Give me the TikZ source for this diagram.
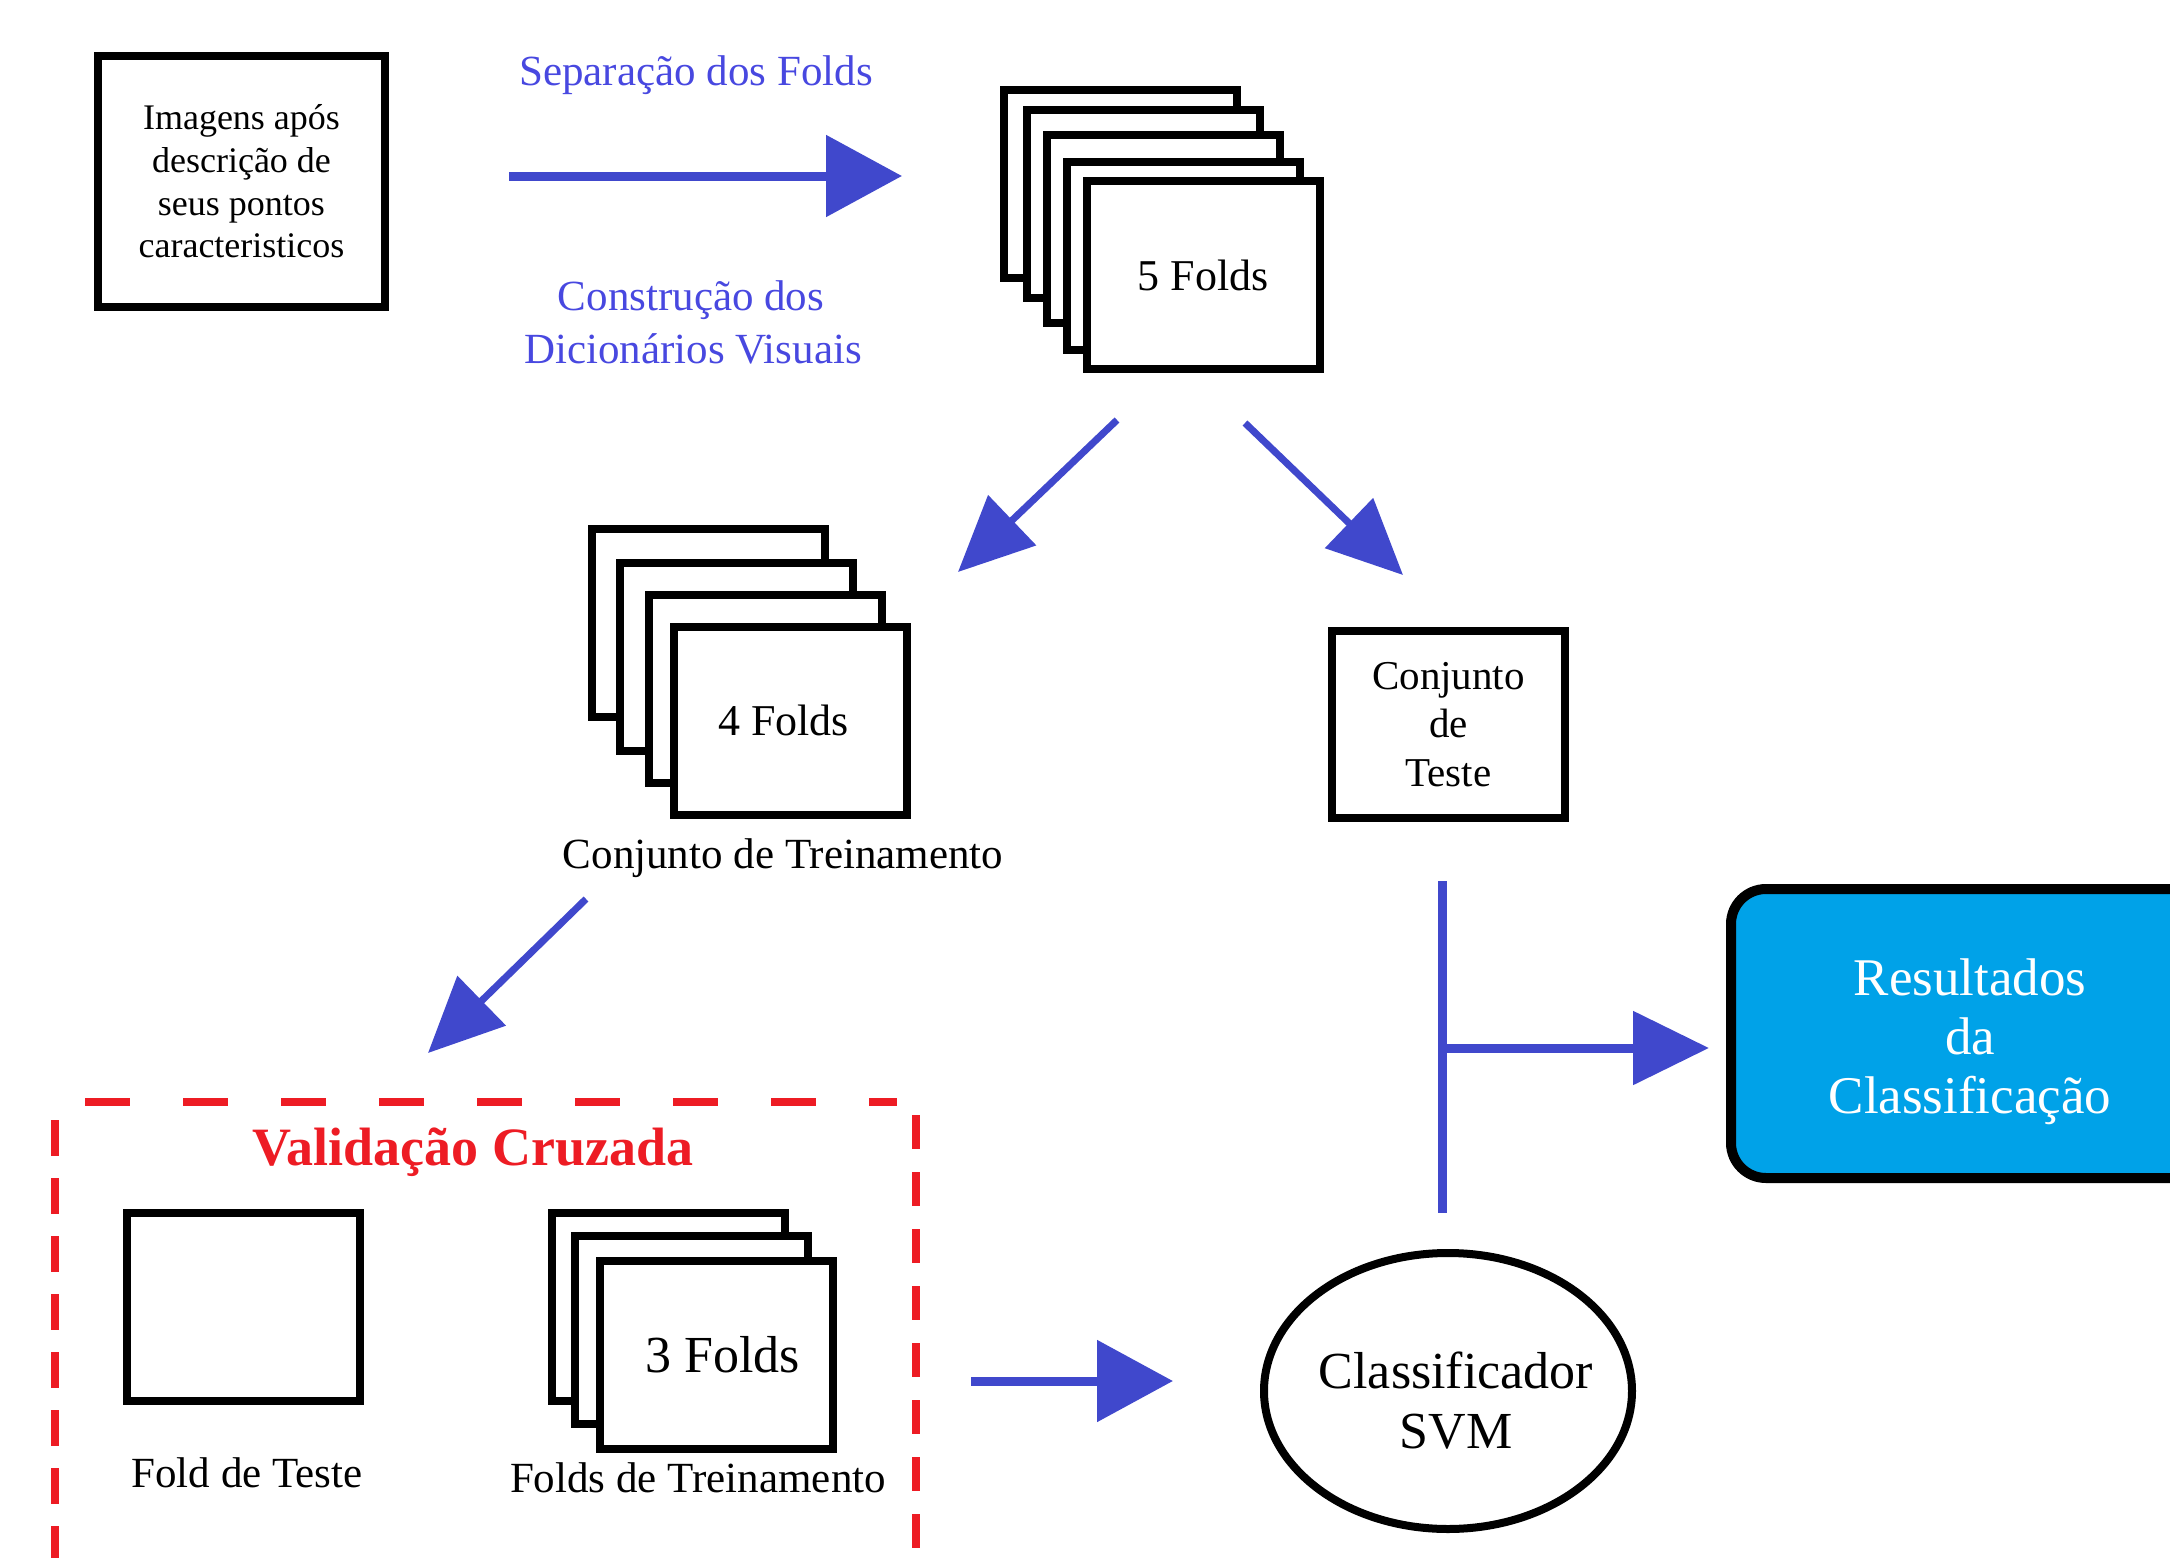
\documentclass[tikz,border=0pt]{standalone}
\usepackage{fontspec}
\setmainfont{Liberation Serif}
\usetikzlibrary{arrows.meta,shapes.geometric}

\definecolor{flowblue}{RGB}{64,72,204}
\definecolor{labelblue}{RGB}{72,72,224}
\definecolor{cvred}{RGB}{237,28,36}
\definecolor{resultfill}{RGB}{0,162,232}

\begin{document}
\begin{tikzpicture}[x=0.5pt, y=-0.5pt,
  card/.style={draw=black, fill=white, line width=4pt,
    minimum width=116.5pt, minimum height=94pt, inner sep=0pt},
  textbox/.style={draw=black, fill=white, line width=4pt, inner sep=0pt, align=center},
  caption/.style={anchor=base, inner sep=0pt, font=\fontsize{21.5pt}{26pt}\selectfont},
  bluelabel/.style={anchor=base, inner sep=0pt, text=labelblue,
    font=\fontsize{21.5pt}{26pt}\selectfont},
  flowline/.style={draw=flowblue, line width=4.5pt},
  bigarrow/.style={flowline, -{Triangle[length=38pt,width=40pt]}},
  diagarrow/.style={draw=flowblue, line width=3.5pt, -{Triangle[length=37.5pt,width=34pt]}},
  cvdash/.style={draw=cvred, line width=4pt}
]
\useasboundingbox (0,0) rectangle (2170,1558);
\clip (0,0) rectangle (2170,1558);

% input descriptors
\node[textbox, minimum width=143.5pt, minimum height=125.5pt,
      font=\fontsize{18pt}{21.35pt}\selectfont] (imgs) at (241.5,181.5)
  {Imagens após\\descrição de\\seus pontos\\caracteristicos};

% fold separation arrow and its labels
\coordinate (sepA) at (509,176);
\coordinate (sepB) at (902,176);
\draw[bigarrow] (sepA) -- (sepB);
\node[bluelabel] (seplbl) at (696,85) {Separação dos Folds};
\node[bluelabel] (dict1) at (691,310) {Construção dos};
\node[bluelabel] (dict2) at (693,363) {Dicionários Visuais};

% stack of five folds
\node[card] (f5a) at (1120.5,184) {};
\node[card] (f5b) at (1143.5,204) {};
\node[card] (f5c) at (1163,229) {};
\node[card] (f5d) at (1183,255.5) {};
\node[card, font=\fontsize{22pt}{26pt}\selectfont] (f5e) at (1203,275) {5 Folds};

% split into training and test sets
\coordinate (d1s) at (1117,420);
\coordinate (d1e) at (958,572);
\draw[diagarrow] (d1s) -- (d1e);
\coordinate (d2s) at (1245,423);
\coordinate (d2e) at (1403,575);
\draw[diagarrow] (d2s) -- (d2e);

% training set: four folds
\node[card] (f4a) at (708,623) {};
\node[card] (f4b) at (736,657) {};
\node[card] (f4c) at (765,689) {};
\node[card, font=\fontsize{22pt}{26pt}\selectfont] (f4d) at (790.5,720.5) {4 Folds\kern7pt};
\node[caption] (trainlbl) at (783,868) {Conjunto de Treinamento};

% test set
\node[textbox, minimum width=116.5pt, minimum height=93.5pt,
      font=\fontsize{20.5pt}{24.25pt}\selectfont] (teste) at (1448.5,724.5)
  {Conjunto\\de\\Teste};

% training set goes to cross validation
\coordinate (d3s) at (586,899);
\coordinate (d3e) at (428,1053);
\draw[diagarrow] (d3s) -- (d3e);

% cross validation region
\coordinate (cvTL) at (85,1102);
\coordinate (cvTR) at (897,1102);
\coordinate (cvL1) at (55,1120);
\coordinate (cvL2) at (55,1558);
\coordinate (cvR1) at (916,1115);
\coordinate (cvR2) at (916,1558);
\draw[cvdash, dash pattern=on 22.5pt off 26.5pt] (cvTL) -- (cvTR);
\draw[cvdash, dash pattern=on 18pt off 11pt] (cvL1) -- (cvL2);
\draw[cvdash, dash pattern=on 17pt off 11.5pt] (cvR1) -- (cvR2);
\node[anchor=base, inner sep=0pt, text=cvred,
      font=\bfseries\fontsize{27pt}{32pt}\selectfont] (cvtitle) at (473,1165)
  {Validação Cruzada};

\node[card] (ftest) at (243,1306.5) {};
\node[caption] (ftestlbl) at (247,1487) {Fold de Teste};

\node[card] (f3a) at (668.5,1306.5) {};
\node[card] (f3b) at (691.5,1330) {};
\node[card, font=\fontsize{26pt}{30pt}\selectfont] (f3c) at (716.5,1355) {\kern6pt3 Folds};
\node[caption] (ftrainlbl) at (698,1492) {Folds de Treinamento};

% classifier
\node[ellipse, draw=black, fill=white, line width=4pt, minimum width=184pt,
      minimum height=138pt, inner xsep=-10pt, inner ysep=0pt, align=center,
      font=\fontsize{26pt}{30pt}\selectfont] (svm) at (1448,1391)
  {\kern8pt\rule{0pt}{28pt}Classificador\\\kern8pt SVM};

\coordinate (cvout) at (971,1381);
\coordinate (svmin) at (1173,1381);
\draw[bigarrow] (cvout) -- (svmin);

% test set and classifier feed the results
\coordinate (jtop) at (1442,881);
\coordinate (jbot) at (1442,1213);
\coordinate (jmid) at (1442,1048);
\coordinate (resin) at (1709,1048);
\draw[flowline] (jtop) -- (jbot);
\draw[flowline, -{Triangle[length=38pt,width=36pt]}] (jmid) -- (resin);

\node[draw=black, line width=5pt, fill=resultfill, rounded corners=17.5pt,
      minimum width=239pt, minimum height=144.5pt, inner sep=0pt, text=white,
      align=center, font=\fontsize{26.5pt}{29.5pt}\selectfont] (res) at (1970,1033.5)
  {\rule{0pt}{27pt}Resultados\\da\\Classificação};
\end{tikzpicture}
\end{document}
